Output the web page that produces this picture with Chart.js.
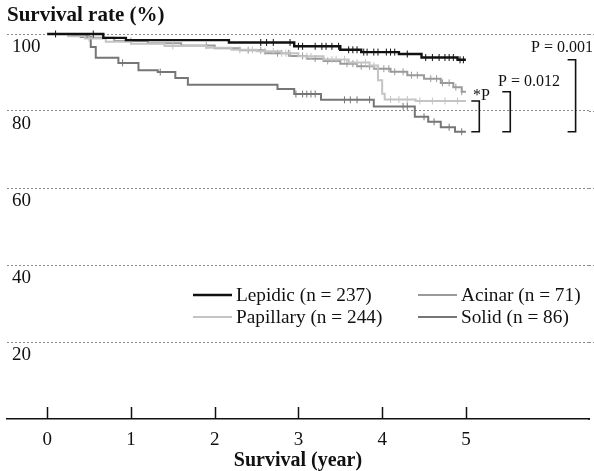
<!DOCTYPE html>
<html><head><meta charset="utf-8">
<script src="https://cdn.jsdelivr.net/npm/chart.js@4.4.1/dist/chart.umd.min.js"></script>
<style>html,body{margin:0;padding:0;background:#fff}#wrap{width:594px;height:471px}</style>
</head><body><div id="wrap"><canvas id="c" width="594" height="471"></canvas></div>
<script>
// ---- data ----
const groupLabels = ['Lepidic (n = 237)', 'Papillary (n = 244)', 'Acinar (n = 71)', 'Solid (n = 86)'];
const xTicks = [0, 1, 2, 3, 4, 5];
const yTicks = [0, 20, 40, 60, 80, 100];

const lepidicTime = [0, 0.67, 0.94, 2.17, 2.95, 3.5, 3.75, 4.2, 4.47, 4.9, 5.0];
const lepidicSurv = [100, 99.0, 98.4, 97.8, 96.8, 95.9, 95.3, 94.8, 93.9, 93.3, 93.3];
const lepidicCens = [0.1, 0.55, 2.55, 2.62, 2.7, 2.9, 3.0, 3.05, 3.2, 3.28, 3.33, 3.4, 3.48, 3.6, 3.65, 3.7, 3.78, 3.82, 3.9, 3.95, 4.05, 4.1, 4.15, 4.3, 4.52, 4.6, 4.68, 4.75, 4.8, 4.85, 4.93, 4.97];

const papillaryTime = [0, 0.25, 0.45, 0.7, 1.0, 1.4, 1.9, 2.2, 2.5, 2.8, 3.0, 3.3, 3.6, 3.85, 3.95, 4.0, 4.03, 4.4, 5.0];
const papillarySurv = [100, 99.4, 98.8, 98.0, 97.5, 96.9, 96.4, 95.9, 95.5, 95.0, 94.2, 93.4, 92.6, 91.8, 88.0, 84.5, 83.0, 82.6, 82.6];
const papillaryCens = [0.5, 1.5, 2.3, 2.45, 2.6, 2.7, 2.8, 2.85, 2.9, 3.1, 3.15, 3.4, 3.45, 3.55, 3.7, 3.8, 3.9, 4.1, 4.2, 4.3, 4.45, 4.6, 4.75, 4.9];

const acinarTime = [0, 0.3, 0.5, 0.8, 1.2, 1.6, 2.0, 2.3, 2.6, 2.9, 3.1, 3.3, 3.5, 3.7, 3.9, 4.1, 4.3, 4.5, 4.7, 4.85, 4.95, 5.0];
const acinarSurv = [100, 99.5, 99.0, 98.2, 97.6, 97.0, 96.3, 95.8, 95.0, 94.3, 93.6, 93.0, 92.3, 91.6, 91.0, 90.2, 89.3, 88.4, 87.3, 86.2, 85.0, 85.0];
const acinarCens = [1.0, 1.9, 2.4, 2.55, 2.75, 2.88, 3.05, 3.2, 3.35, 3.58, 3.65, 3.75, 3.85, 4.02, 4.08, 4.15, 4.25, 4.35, 4.42, 4.58, 4.65, 4.72, 4.8, 4.88, 4.95];

const solidTime = [0, 0.4, 0.52, 0.58, 0.85, 1.09, 1.32, 1.53, 1.68, 2.75, 2.95, 3.27, 3.9, 4.39, 4.55, 4.7, 4.87, 5.0];
const solidSurv = [100, 99.2, 96.6, 93.8, 92.5, 90.6, 90.1, 88.6, 86.8, 85.7, 84.4, 82.9, 81.2, 78.5, 77.2, 75.8, 74.6, 74.6];
const solidCens = [0.9, 1.35, 2.97, 3.05, 3.1, 3.15, 3.2, 3.55, 3.62, 3.7, 3.85, 4.25, 4.3, 4.5, 4.62, 4.8, 4.95];

const pLabels = ['*P', 'P = 0.012', 'P = 0.001'];

// ---- styling ----
const colors = ['#111111', '#c4c4c4', '#9a9a9a', '#767676'];
const widths = [2.4, 2, 2, 2];
const SERIF = '"Liberation Serif", "Times New Roman", serif';

function pts(t, s) { return t.map((v, i) => ({x: v, y: s[i]})); }
function survAt(t, s, x) { let v = s[0]; for (let i = 0; i < t.length; i++) { if (t[i] <= x) v = s[i]; } return v; }
function censPts(t, s, c) { return c.map(x => ({x: x, y: survAt(t, s, x)})); }

const series = [
  [lepidicTime, lepidicSurv, lepidicCens],
  [papillaryTime, papillarySurv, papillaryCens],
  [acinarTime, acinarSurv, acinarCens],
  [solidTime, solidSurv, solidCens]
];

const datasets = [];
series.forEach((g, i) => {
  datasets.push({
    type: 'line', label: groupLabels[i], data: pts(g[0], g[1]),
    stepped: 'before', borderColor: colors[i], borderWidth: widths[i],
    pointRadius: 0, fill: false, clip: false, order: i
  });
});
series.forEach((g, i) => {
  datasets.push({
    type: 'scatter', label: groupLabels[i] + ' censored', data: censPts(g[0], g[1], g[2]),
    showLine: false, pointStyle: 'line', rotation: 90, pointRadius: 3.5,
    borderColor: colors[i], borderWidth: 1, clip: false, order: i
  });
});

const annot = {
  id: 'annot',
  beforeDatasetsDraw(chart) {
    // continue the dotted grid lines and the axis line to the right edge
    const ctx = chart.ctx, ys = chart.scales.y, ca = chart.chartArea;
    ctx.save();
    ctx.strokeStyle = '#8c8c8c'; ctx.lineWidth = 1; ctx.setLineDash([2, 2]);
    yTicks.forEach(v => {
      if (v === 0) return;
      const py = Math.round(ys.getPixelForValue(v)) + 0.5;
      ctx.beginPath(); ctx.moveTo(ca.right, py); ctx.lineTo(chart.width, py); ctx.stroke();
    });
    ctx.setLineDash([]);
    ctx.strokeStyle = '#111'; ctx.lineWidth = 1.5;
    const y0 = ys.getPixelForValue(0);
    ctx.beginPath(); ctx.moveTo(ca.right - 1, y0); ctx.lineTo(chart.width - 4, y0); ctx.stroke();
    ctx.restore();
  },
  afterDraw(chart) {
    const ctx = chart.ctx, xs = chart.scales.x, ys = chart.scales.y;
    ctx.save();
    // y-axis title
    ctx.fillStyle = '#111';
    ctx.font = 'bold 21px ' + SERIF;
    ctx.textAlign = 'left'; ctx.textBaseline = 'middle';
    ctx.fillText('Survival rate (%)', 7, 16);
    // inner tick marks on x axis
    ctx.strokeStyle = '#111'; ctx.lineWidth = 1.5;
    const y0 = ys.getPixelForValue(0);
    xTicks.forEach(v => {
      const px = Math.round(xs.getPixelForValue(v)) + 0.5;
      ctx.beginPath(); ctx.moveTo(px, y0); ctx.lineTo(px, y0 - 12); ctx.stroke();
    });
    // legend
    const legendPos = [[193, 295], [193, 317], [418, 295], [418, 317]];
    ctx.font = '19.3px ' + SERIF;
    groupLabels.forEach((lab, i) => {
      const [lx, ly] = legendPos[i];
      ctx.strokeStyle = colors[i]; ctx.lineWidth = widths[i];
      ctx.beginPath(); ctx.moveTo(lx, ly); ctx.lineTo(lx + 39, ly); ctx.stroke();
      ctx.fillStyle = '#111'; ctx.textAlign = 'left'; ctx.textBaseline = 'middle';
      ctx.fillText(lab, lx + 43, ly + 1);
    });
    // p-value brackets: each compares one group with Solid
    const ends = [papillarySurv, acinarSurv, lepidicSurv].map(a => a[a.length - 1]);
    const solidEnd = solidSurv[solidSurv.length - 1];
    const bx = [5.16, 5.53, 6.31];
    const txtPos = [[473, 96], [498, 82], [531, 48]];
    ctx.strokeStyle = '#111'; ctx.lineWidth = 1.6;
    bx.forEach((b, i) => {
      const px = xs.getPixelForValue(b);
      const top = ys.getPixelForValue(ends[i]);
      const bot = ys.getPixelForValue(solidEnd);
      ctx.beginPath();
      ctx.moveTo(px - 8, top); ctx.lineTo(px, top); ctx.lineTo(px, bot); ctx.lineTo(px - 8, bot);
      ctx.stroke();
      ctx.fillStyle = '#111'; ctx.font = '16px ' + SERIF;
      ctx.textAlign = 'left'; ctx.textBaseline = 'middle';
      ctx.fillText(pLabels[i], txtPos[i][0], txtPos[i][1]);
    });
    ctx.restore();
  }
};

new Chart(document.getElementById('c'), {
  type: 'line',
  data: { datasets },
  plugins: [annot],
  options: {
    responsive: false, animation: false, events: [],
    layout: { padding: { left: 7, right: 0, top: 34, bottom: 0 } },
    plugins: { legend: { display: false }, tooltip: { enabled: false }, title: { display: false } },
    scales: {
      x: {
        type: 'linear', min: -0.48, max: 6.47,
        afterBuildTicks: s => { s.ticks = xTicks.map(v => ({value: v})); },
        afterFit: s => { s.height = 52; s.paddingLeft = 0; s.paddingRight = 0; },
        grid: { display: false, drawTicks: false },
        border: { display: true, color: '#111', width: 1.5 },
        ticks: { color: '#111', padding: 12, font: { family: SERIF, size: 19, lineHeight: 1 } },
        title: { display: true, text: 'Survival (year)', color: '#111', padding: { top: 1, bottom: 0 },
                 font: { family: SERIF, size: 20, weight: 'bold', lineHeight: 1 } }
      },
      y: {
        type: 'linear', min: 0, max: 100,
        afterBuildTicks: s => { s.ticks = yTicks.map(v => ({value: v})); },
        afterFit: s => { s.width = 0; s.paddingLeft = 0; s.paddingRight = 0; },
        grid: { color: c => (c.tick && c.tick.value === 0) ? 'rgba(0,0,0,0)' : '#8c8c8c', lineWidth: 1, drawTicks: false },
        border: { display: false, dash: [2, 2] },
        ticks: { mirror: true, padding: 5, labelOffset: 13, color: '#111',
                 callback: v => v === 0 ? '' : String(v),
                 font: { family: SERIF, size: 19, lineHeight: 1 } }
      }
    }
  }
});
</script>
</body></html>
